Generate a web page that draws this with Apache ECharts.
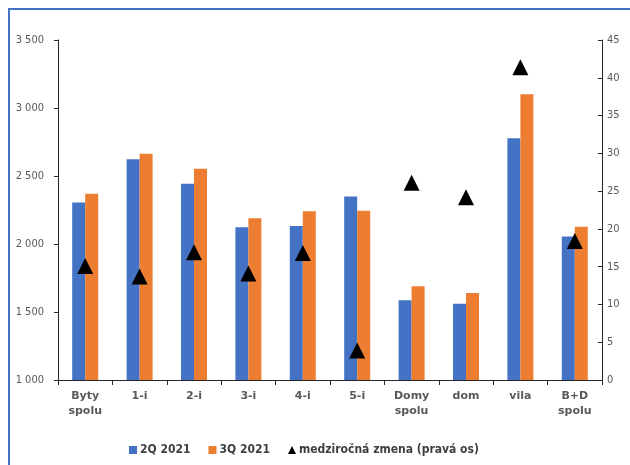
<!DOCTYPE html>
<html>
<head>
<meta charset="utf-8">
<script src="https://cdn.jsdelivr.net/npm/echarts@6/dist/echarts.min.js"></script>
<style>
  html, body { margin: 0; padding: 0; background: #fff; }
  #chart { width: 630px; height: 465px; }
</style>
</head>
<body>
<div id="chart"></div>
<script>
// Categories (apartment / house types)
const categories = ['Byty\nspolu', '1-i', '2-i', '3-i', '4-i', '5-i', 'Domy\nspolu', 'dom', 'vila', 'B+D\nspolu'];
// Average values per quarter (left axis)
const q2_2021 = [2305, 2623, 2443, 2123, 2132, 2350, 1586, 1561, 2777, 2056];
const q3_2021 = [2370, 2664, 2554, 2189, 2240, 2245, 1689, 1640, 3101, 2127];
// Year-on-year change in % (right axis)
const yoyChange = [15.1, 13.7, 16.9, 14.1, 16.8, 3.9, 26.1, 24.2, 41.4, 18.4];
const seriesNames = ['2Q 2021', '3Q 2021', 'medziročná zmena (pravá os)'];

const chart = echarts.init(document.getElementById('chart'));
const font = '"DejaVu Sans", Verdana, sans-serif';
const narrow = '"Liberation Sans Narrow", "DejaVu Sans Condensed", sans-serif';
const axisColor = '#262626';
const labelColor = '#595959';

chart.setOption({
  animation: false,
  textStyle: { fontFamily: font },
  graphic: [{
    type: 'rect',
    shape: { x: 9, y: 9, width: 640, height: 480 },
    style: { fill: 'none', stroke: '#4472C4', lineWidth: 2 },
    silent: true
  }],
  grid: { left: 58, right: 28, top: 40, bottom: 85 },
  legend: {
    top: 439,
    left: 124,
    itemGap: 18,
    itemWidth: 8,
    itemHeight: 8,
    textStyle: {
      fontSize: 12, fontWeight: 'bold', color: '#404040',
      fontFamily: '"DejaVu Sans Condensed", "DejaVu Sans", sans-serif', padding: [0, 0, 0, -2]
    },
    data: [
      { name: seriesNames[0], icon: 'rect' },
      { name: seriesNames[1], icon: 'rect' },
      { name: seriesNames[2], icon: 'triangle' }
    ]
  },
  xAxis: {
    type: 'category',
    data: categories,
    axisLine: { lineStyle: { color: axisColor, width: 1 } },
    axisTick: { show: true, alignWithLabel: false, length: 5, lineStyle: { color: axisColor } },
    axisLabel: { color: labelColor, fontSize: 11, fontWeight: 'bold', lineHeight: 15, margin: 9, interval: 0 }
  },
  yAxis: [{
    type: 'value',
    min: 1000, max: 3500, interval: 500,
    axisLine: { show: true, lineStyle: { color: axisColor } },
    axisTick: { show: true, length: 4, lineStyle: { color: axisColor } },
    splitLine: { show: false },
    axisLabel: {
      color: labelColor, fontSize: 11, margin: 14, fontFamily: narrow,
      formatter: v => String(v).replace(/\B(?=(\d{3})+(?!\d))/g, ' ')
    }
  }, {
    type: 'value',
    min: 0, max: 45, interval: 5,
    position: 'right',
    axisLine: { show: true, lineStyle: { color: axisColor } },
    axisTick: { show: true, inside: true, length: 4, lineStyle: { color: axisColor } },
    splitLine: { show: false },
    axisLabel: { color: labelColor, fontSize: 11, margin: 5, fontFamily: narrow }
  }],
  series: [{
    name: seriesNames[0],
    type: 'bar',
    data: q2_2021,
    barWidth: 13,
    barGap: '0%',
    itemStyle: { color: '#4472C4' }
  }, {
    name: seriesNames[1],
    type: 'bar',
    data: q3_2021,
    barWidth: 13,
    barGap: '0%',
    itemStyle: { color: '#ED7D31' }
  }, {
    name: seriesNames[2],
    type: 'scatter',
    yAxisIndex: 1,
    data: yoyChange,
    symbol: 'triangle',
    symbolSize: [16, 16],
    itemStyle: { color: '#000000', opacity: 1 },
    z: 5
  }]
});
</script>
</body>
</html>
